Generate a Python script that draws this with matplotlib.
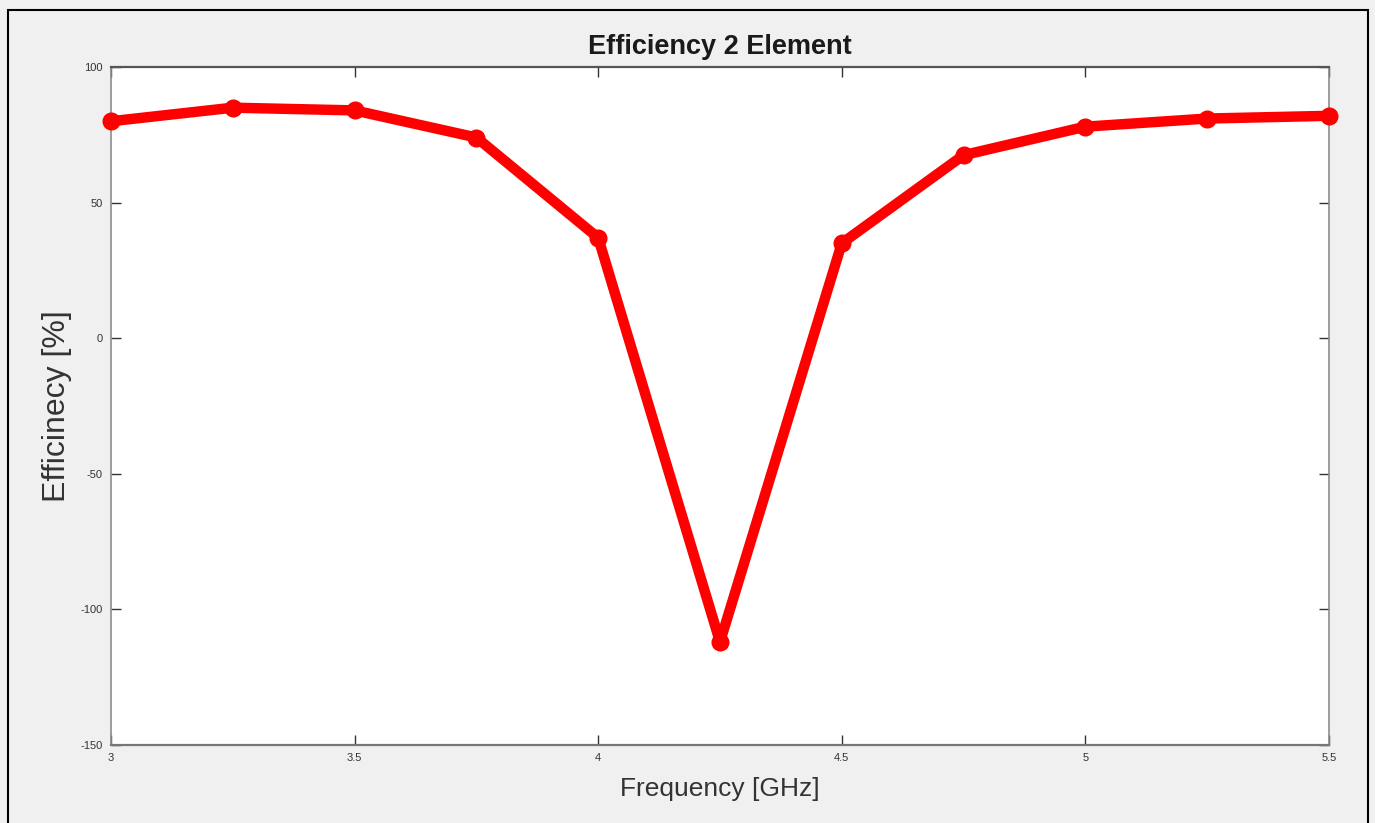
import matplotlib
matplotlib.use("Agg")
import matplotlib.pyplot as plt
from matplotlib.patches import Rectangle

plt.rcParams['font.family'] = ['Liberation Sans', 'DejaVu Sans']

freq = [3.0, 3.25, 3.5, 3.75, 4.0, 4.25, 4.5, 4.75, 5.0, 5.25, 5.5]
eff = [80, 85, 84, 74, 37, -112, 35, 67.5, 78, 81, 82]
xticks = [3, 3.5, 4, 4.5, 5, 5.5]
xticklabels = ["3", "3.5", "4", "4.5", "5", "5.5"]
yticks = [-150, -100, -50, 0, 50, 100]
yticklabels = ["-150", "-100", "-50", "0", "50", "100"]

fig = plt.figure(figsize=(13.75, 8.23), dpi=100, facecolor="#f0f0f0")
ax = fig.add_axes([111/1375, 1-745/823, (1329-111)/1375, (745-67)/823])
ax.set_facecolor("white")
ax.plot(freq, eff, color="#ff0000", lw=7.5, marker="o", ms=12, solid_capstyle="round",
        clip_on=False, zorder=3)
ax.set_xlim(3, 5.5)
ax.set_ylim(-150, 100)
ax.set_xticks(xticks)
ax.set_xticklabels(xticklabels)
ax.set_yticks(yticks)
ax.set_yticklabels(yticklabels)
ax.tick_params(direction="in", length=7, width=1, labelsize=8, colors="#333333",
               top=True, right=True, pad=6)
for s in ax.spines.values():
    s.set_color("#8c8c8c")
    s.set_linewidth(1.2)
ax.spines["top"].set_color("#555555")
ax.spines["top"].set_linewidth(1.6)
ax.spines["bottom"].set_color("#777777")
ax.spines["bottom"].set_linewidth(1.6)
ax.set_title("Efficiency 2 Element", fontsize=19.5, fontweight="bold", color="#1a1a1a", pad=9)
ax.set_xlabel("Frequency [GHz]", fontsize=19, color="#333333", labelpad=10)
ax.set_ylabel("Efficinecy [%]", fontsize=23, color="#333333", labelpad=6)

fig.patches.append(Rectangle((8/1375, -0.02), (1368-8)/1375, 1-10/823+0.02,
                             transform=fig.transFigure, fill=False,
                             edgecolor="black", lw=1.5, clip_on=False))
fig.savefig("out.png", dpi=100, facecolor=fig.get_facecolor())
